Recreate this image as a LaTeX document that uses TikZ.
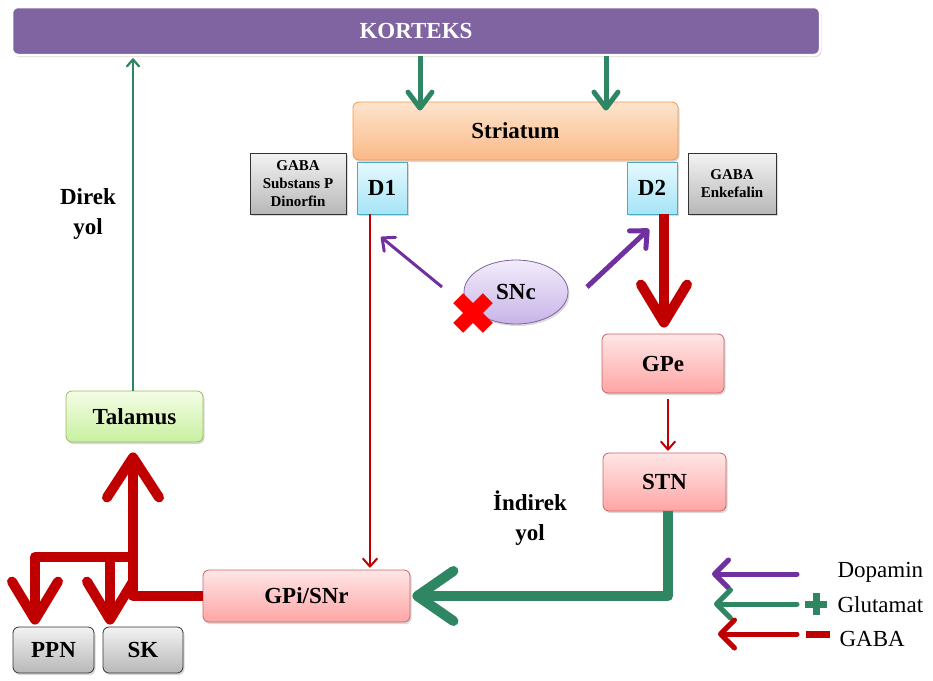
\documentclass[tikz,border=0pt]{standalone}
\usepackage{fontspec}
\setmainfont{Liberation Serif}
\usetikzlibrary{arrows.meta,shadows,shapes.geometric}
\definecolor{kpurple}{HTML}{8064A2}
\definecolor{glu}{RGB}{46,134,98}
\definecolor{gabac}{HTML}{C00000}
\definecolor{dopa}{HTML}{7030A0}
\tikzset{
  sh/.style={drop shadow={opacity=0.3,shadow xshift=1.5pt,shadow yshift=-2pt}},
  box/.style={draw, line width=0.8pt, inner sep=0pt, align=center, sh,
     font=\fontsize{23}{26}\selectfont\bfseries},
  orangebox/.style={box, rounded corners=6pt, draw={rgb,255:red,247;green,150;blue,70}, top color={rgb,255:red,253;green,228;blue,205}, bottom color={rgb,255:red,250;green,185;blue,135}},
  cyanbox/.style={box, draw={rgb,255:red,75;green,172;blue,198}, top color={rgb,255:red,230;green,249;blue,254}, bottom color={rgb,255:red,165;green,228;blue,247}},
  pinkbox/.style={box, rounded corners=6pt, draw={rgb,255:red,205;green,100;blue,100}, top color={rgb,255:red,255;green,230;blue,230}, bottom color={rgb,255:red,255;green,165;blue,165}},
  greenbox/.style={box, rounded corners=6pt, draw={rgb,255:red,155;green,187;blue,89}, top color={rgb,255:red,244;green,253;blue,230}, bottom color={rgb,255:red,200;green,240;blue,160}},
  graybox/.style={box, draw=black!80, top color=white!95!black, bottom color=black!28},
  grayrbox/.style={graybox, rounded corners=6pt},
  smalltxt/.style={font=\fontsize{15}{18}\selectfont\bfseries},
  lbl/.style={font=\fontsize{23}{30}\selectfont\bfseries, align=center},
  leg/.style={font=\fontsize{23}{26}\selectfont, anchor=west},
  bigred/.style={draw=gabac, line width=10pt, line join=round, -{Straight Barb[length=38pt,width=46pt,round]}},
  talred/.style={draw=gabac, line width=10pt, line join=round, -{Straight Barb[length=40pt,width=52pt,round]}},
  thinred/.style={draw=gabac, line width=2pt, -{Straight Barb[length=8pt,width=14pt,round]}},
  biggreen/.style={draw=glu, line width=10pt, line join=round, -{Straight Barb[length=36pt,width=50pt,round]}},
  midgreen/.style={draw=glu, line width=5pt, -{Straight Barb[length=16pt,width=24pt,round]}},
  thingreen/.style={draw=glu, line width=2.2pt, -{Straight Barb[length=7pt,width=12pt,round]}},
  legarrow/.style={line width=5pt, line cap=round, -{Straight Barb[length=14pt,width=28pt,round]}},
}
\begin{document}
\begin{tikzpicture}[x=1pt,y=-1pt]
\useasboundingbox (0,0) rectangle (933,680);
% nodes
\node[draw=white, line width=2.5pt, fill=kpurple, rounded corners=6pt, minimum width=808pt, minimum height=48pt, sh, text=white, font=\fontsize{23}{26}\selectfont\bfseries] (korteks) at (416,31) {KORTEKS};
\node[orangebox, minimum width=325pt, minimum height=58pt] (striatum) at (515.5,131) {Striatum};
\node[cyanbox, minimum width=50pt, minimum height=52pt] (d1) at (382,188) {D1};
\node[cyanbox, minimum width=50pt, minimum height=52pt] (d2) at (652,188) {D2};
\node[graybox, smalltxt, minimum width=96pt, minimum height=61pt] (gaba1) at (298,183.5) {GABA\\Substans P\\Dinorfin};
\node[graybox, smalltxt, minimum width=88pt, minimum height=61pt] (gaba2) at (732,183.5) {GABA\\Enkefalin};
\node[box, ellipse, draw=kpurple, top color={rgb,255:red,242;green,236;blue,250}, bottom color={rgb,255:red,200;green,180;blue,232}, minimum width=104pt, minimum height=64pt] (snc) at (516,292) {SNc};
\node[pinkbox, minimum width=122pt, minimum height=59pt] (gpe) at (663,363.5) {GPe};
\node[pinkbox, minimum width=123pt, minimum height=58pt] (stn) at (664.5,482) {STN};
\node[pinkbox, minimum width=207pt, minimum height=52pt] (gpi) at (306.5,596) {GPi/SNr};
\node[greenbox, minimum width=137pt, minimum height=51pt] (talamus) at (134.5,416.5) {Talamus};
\node[grayrbox, minimum width=81pt, minimum height=46pt] (ppn) at (53.5,650) {PPN};
\node[grayrbox, minimum width=80pt, minimum height=46pt] (sk) at (143,650) {SK};
% labels
\node[lbl] (direk) at (88,214) {Direk\\yol};
\node[lbl] (indirek) at (530,518) {İndirek\\yol};
% helper coordinates
\coordinate (cx1) at (420,0);
\coordinate (cx2) at (606,0);
\coordinate (tx) at (133,0);
\coordinate (d1x) at (370,0);
\coordinate (d2x) at (664,0);
\coordinate (gx) at (668,0);
\coordinate (jn) at (133,557);
\coordinate (jl) at (35,557);
\coordinate (jk) at (110,557);
% cortex -> striatum
\draw[midgreen, shorten >=-9pt] (korteks.south -| cx1) -- (striatum.north -| cx1);
\draw[midgreen, shorten >=-9pt] (korteks.south -| cx2) -- (striatum.north -| cx2);
% talamus -> korteks
\draw[thingreen, shorten >=2pt] (talamus.north -| tx) -- (korteks.south -| tx);
% D1 -> GPi
\draw[thinred, shorten >=2pt] (d1.south -| d1x) -- (gpi.north -| d1x);
% D2 -> GPe
\draw[bigred, shorten >=6pt] (d2.south -| d2x) -- (gpe.north -| d2x);
% GPe -> STN
\draw[thinred, shorten <=6pt, shorten >=2pt] (gpe.south -| gx) -- (stn.north -| gx);
% STN -> GPi
\draw[biggreen, shorten >=2pt] (stn.south -| gx) |- (gpi.east);
% GPi -> Talamus, PPN, SK
\draw[talred, shorten >=10pt] (gpi.west) -| (talamus.south -| tx);
\draw[bigred, shorten >=2pt] (jn) -- (jl) -- (ppn.north -| jl);
\draw[bigred, shorten >=2pt] (jk) -- (sk.north -| jk);
% SNc -> D1, D2
\coordinate (s1) at (442,287);
\coordinate (e1) at (381,237);
\coordinate (s2) at (587,287);
\coordinate (e2) at (649,229);
\draw[dopa, line width=3pt, -{Straight Barb[length=10pt,width=18pt,round]}] (s1) -- (e1);
\draw[dopa, line width=5pt, -{Straight Barb[length=13pt,width=24pt,round]}] (s2) -- (e2);
% red cross
\fill[red, rotate around={45:(473,313)}] (452,306) rectangle (494,320);
\fill[red, rotate around={-45:(473,313)}] (452,306) rectangle (494,320);
% legend
\coordinate (l1a) at (797,574); \coordinate (l1b) at (712,574);
\coordinate (l2a) at (797,604); \coordinate (l2b) at (714,604);
\coordinate (l3a) at (797,634); \coordinate (l3b) at (718,634);
\draw[legarrow, dopa] (l1a) -- (l1b);
\draw[legarrow, glu] (l2a) -- (l2b);
\draw[legarrow, gabac] (l3a) -- (l3b);
\fill[glu] (805,600.5) rectangle (827,607.5);
\fill[glu] (812.5,593) rectangle (819.5,615);
\fill[gabac] (806,631) rectangle (830,638);
\node[leg] (ld) at (834,572) {Dopamin};
\node[leg] (lg) at (834,605) {Glutamat};
\node[leg] (lb) at (836,639) {GABA};
\end{tikzpicture}
\end{document}
